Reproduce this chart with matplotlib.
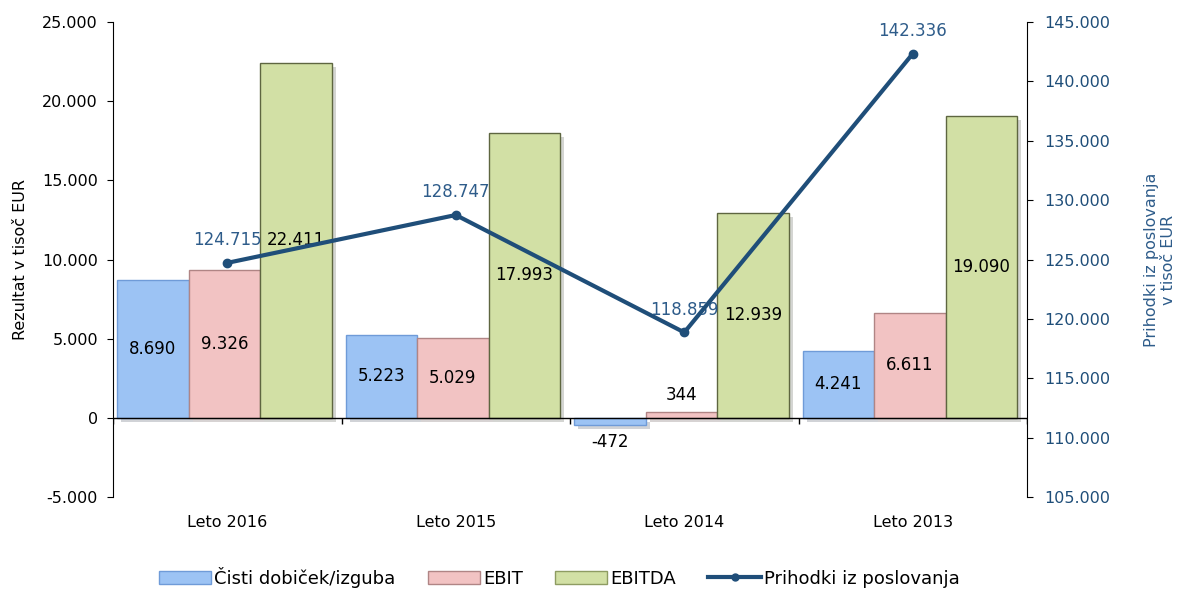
import numpy as np
import matplotlib
matplotlib.use('Agg')
import matplotlib.pyplot as plt
import matplotlib.patheffects as pe
from matplotlib.lines import Line2D
from matplotlib.patches import Patch

# Data
categories = ['Leto 2016', 'Leto 2015', 'Leto 2014', 'Leto 2013']
cisti = [8690, 5223, -472, 4241]
ebit = [9326, 5029, 344, 6611]
ebitda = [22411, 17993, 12939, 19090]
prihodki = [124715, 128747, 118859, 142336]


def fmt(v):
    return f'{v:,.0f}'.replace(',', '.')


plt.rcParams['font.family'] = ['DejaVu Sans']

fig = plt.figure(figsize=(11.77, 5.92), dpi=100)
ax = fig.add_axes([0.096, 0.1605, 0.7766, 0.8023])
ax2 = ax.twinx()

x = np.arange(len(categories))
w = 0.313
shadow = [pe.withSimplePatchShadow(offset=(3, -3), alpha=0.22)]

series = [
    (cisti, -w, '#9CC3F4', '#6F9BD8', 'Čisti dobiček/izguba'),
    (ebit, 0, '#F2C3C3', '#B08585', 'EBIT'),
    (ebitda, w, '#D2E0A5', '#5E6640', 'EBITDA'),
]
for vals, off, fc, ec, lab in series:
    bars = ax.bar(x + off - 0.013, vals, width=w, color=fc, edgecolor=ec,
                  linewidth=1.0, zorder=2)
    for b in bars:
        b.set_path_effects(shadow)
    for xi, v in zip(x, vals):
        if abs(v) > 2000:
            ax.text(xi + off - 0.013, v / 2, fmt(v), ha='center', va='center',
                    fontsize=12, color='black', zorder=5)
        elif v < 0:
            ax.text(xi + off - 0.013, v - 500, fmt(v), ha='center', va='top',
                    fontsize=12, color='black', zorder=5)
        else:
            ax.text(xi + off - 0.013, v + 500, fmt(v), ha='center', va='bottom',
                    fontsize=12, color='black', zorder=5)

# zero line and category boundary ticks
ax.axhline(0, color='black', linewidth=1, zorder=3)
ax.vlines(np.arange(-0.5, len(categories)), 0, -400, color='black', linewidth=1, zorder=3)

ax.set_xlim(-0.5, len(categories) - 0.5)
ax.set_ylim(-5000, 25000)
ax.set_yticks(np.arange(-5000, 25001, 5000))
ax.set_yticklabels([fmt(v) for v in np.arange(-5000, 25001, 5000)], fontsize=11.5)
ax.set_xticks(x)
ax.set_xticklabels(categories, fontsize=11.5)
ax.tick_params(axis='x', length=0, pad=13)
ax.tick_params(axis='y', direction='out', length=4.3, pad=6.5)
ax.set_ylabel('Rezultat v tisoč EUR', fontsize=11.5, labelpad=10)
for s in ['top', 'bottom']:
    ax.spines[s].set_visible(False)
ax.spines['right'].set_visible(False)

# line on secondary axis
line_color = '#1F4E79'
ax2.plot(x, prihodki, color=line_color, linewidth=3, marker='o', markersize=6, zorder=4)
for xi, v in zip(x, prihodki):
    ax2.annotate(fmt(v), (xi, v), xytext=(0, 10), textcoords='offset points',
                 ha='center', va='bottom', fontsize=12, color='#2E5C8A')
ax2.set_ylim(105000, 145000)
ax2.set_yticks(np.arange(105000, 145001, 5000))
ax2.set_yticklabels([fmt(v) for v in np.arange(105000, 145001, 5000)],
                    fontsize=11.5, color='#1F4E79')
ax2.tick_params(axis='y', direction='out', length=4.3, pad=8)
ax2.set_ylabel('Prihodki iz poslovanja\nv tisoč EUR', fontsize=11.5,
               color='#2E5C8A', labelpad=24)
for s in ['top', 'bottom', 'left']:
    ax2.spines[s].set_visible(False)

handles = [
    Patch(facecolor='#9CC3F4', edgecolor='#6F9BD8'),
    Patch(facecolor='#F2C3C3', edgecolor='#B08585'),
    Patch(facecolor='#D2E0A5', edgecolor='#8E9C62'),
    Line2D([0], [0], color=line_color, linewidth=3, marker='o', markersize=5),
]
labels = ['Čisti dobiček/izguba', 'EBIT', 'EBITDA', 'Prihodki iz poslovanja']
fig.legend(handles, labels, loc='center', bbox_to_anchor=(0.475, 0.025),
           ncol=4, frameon=False, fontsize=13, handlelength=2.9,
           handleheight=0.8, handletextpad=0.15, columnspacing=1.8)

fig.savefig('out.png', dpi=100)
